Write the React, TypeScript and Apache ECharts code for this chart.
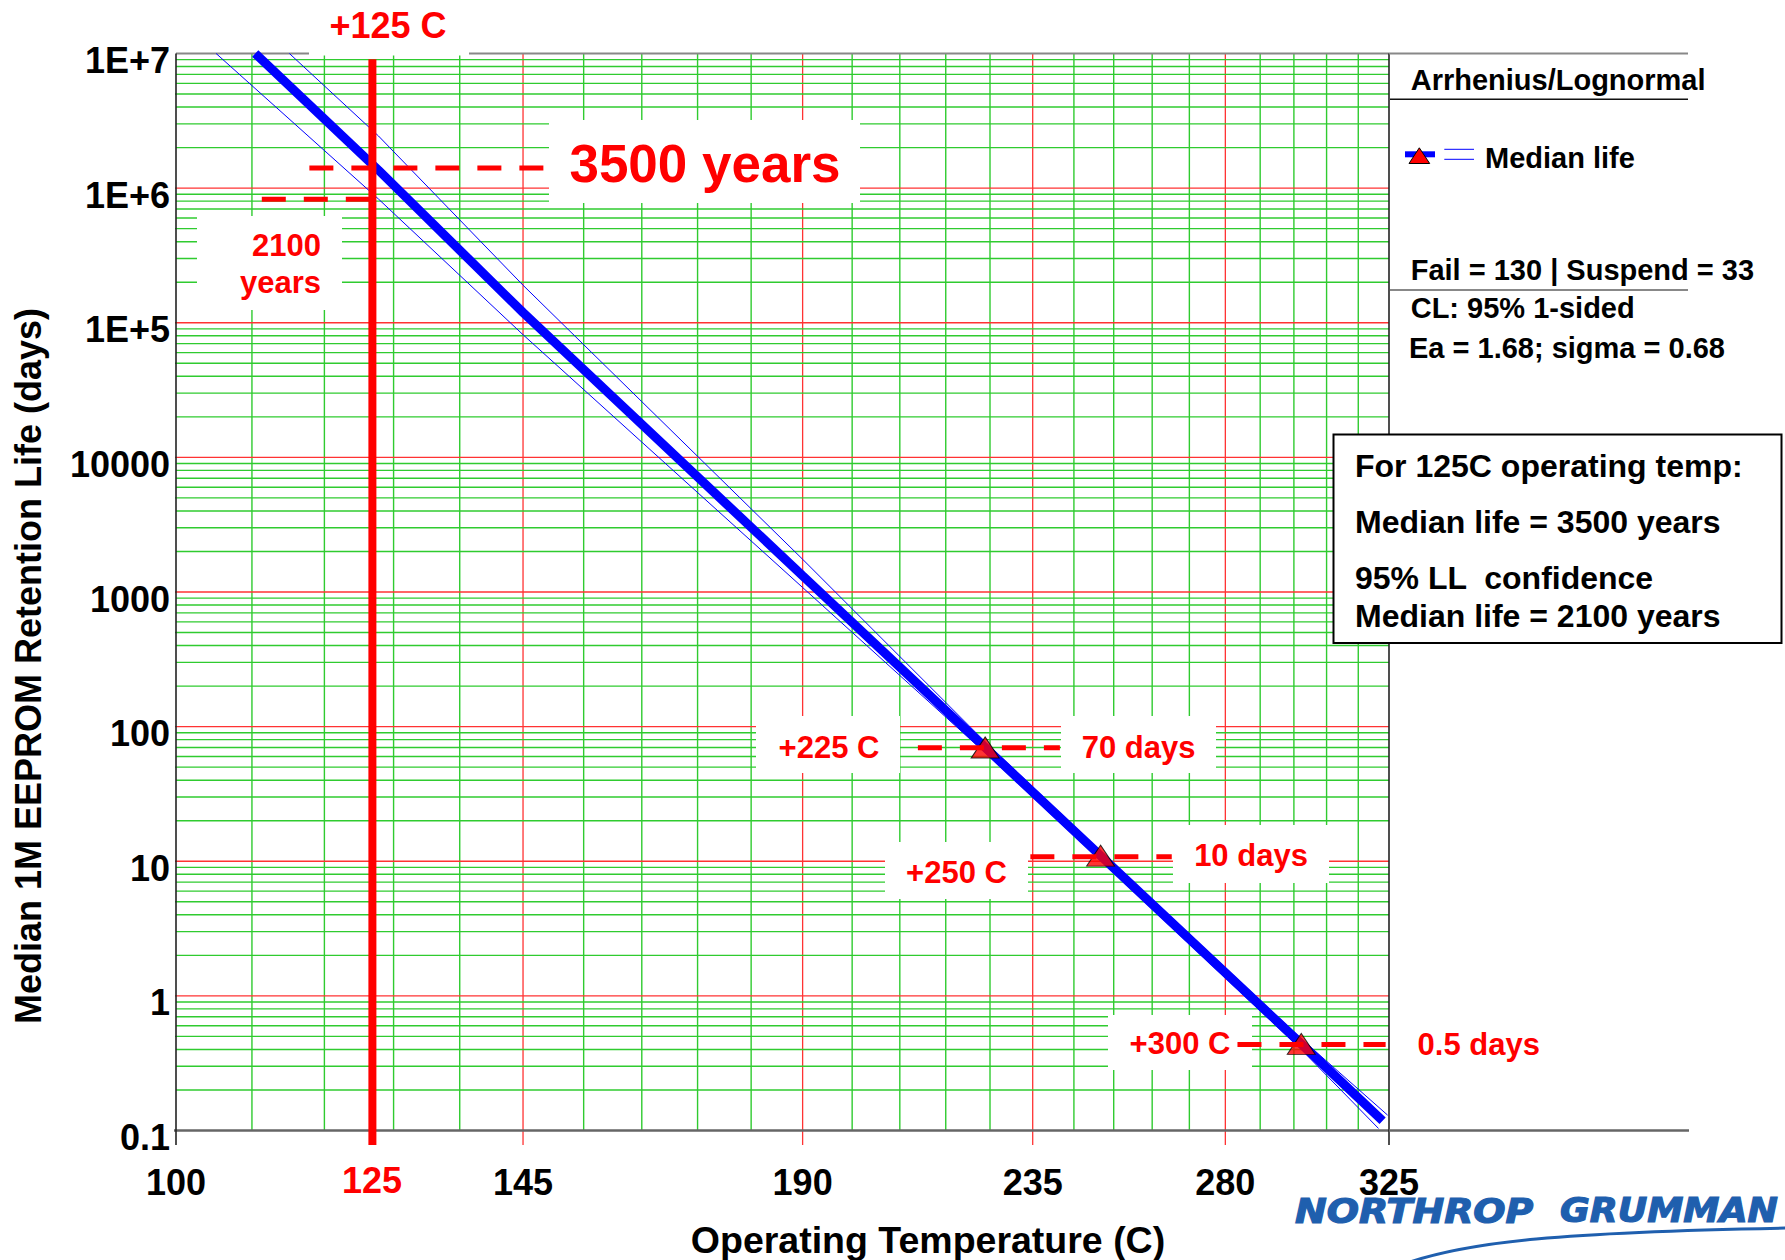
import React, { useEffect, useRef } from 'react';
import * as echarts from 'echarts';

const FONT = "'Liberation Sans', Arial, Helvetica, sans-serif";

// ---- axes ----
const T_MIN = 100;
const T_MAX = 325;
const Y_MIN = 0.1;
const Y_MAX = 1e7;
const LABEL_TEMPS = [100, 145, 190, 235, 280, 325];
const YTICK_LABELS = ['0.1', '1', '10', '100', '1000', '10000', '1E+5', '1E+6', '1E+7'];

// ---- grid lines ----
const RED_GRID_TEMPS = [145, 190, 235, 280];
const BORDER_TEMPS = [100, 325];
const GREEN_GRID_TEMPS = [109, 118, 127, 136, 154, 163, 172, 181, 199, 208, 217, 226, 244, 253, 262, 271, 289, 298, 307, 316];
const DECADES = [1, 10, 100, 1000, 10000, 1e5, 1e6];
const MINOR_DECADES = [0.1, 1, 10, 100, 1000, 10000, 1e5, 1e6];
const MINOR_MULTS = [2, 3, 4, 5, 6, 7, 8, 9];

// ---- data ----
const MEDIAN_T = [109.4, 125, 145, 190, 225, 250, 300, 323.1];
const MEDIAN_Y = [1.0e7, 1.36e6, 1.19e5, 1320, 70, 11, 0.44, 0.118];
const UPPER_T = [113.6, 125, 145, 190, 225, 250, 300, 324.6];
const UPPER_Y = [1.0e7, 2.44e6, 1.9e5, 1750, 77, 11.9, 0.48, 0.13];
const LOWER_T = [104.7, 125, 145, 190, 225, 250, 300, 321.9];
const LOWER_Y = [1.0e7, 8.3e5, 8.15e4, 1080, 64, 10.1, 0.4, 0.1035];
const POINT_T = [225, 250, 300];
const POINT_Y = [70, 11, 0.44];

// ---- annotations (data space) ----
const OP_TEMP = 124.2; // thick red operating-temperature line as drawn
const OP_LINE_Y = [0.078, 9.06e6];
const DASH_3500 = { t: [116.1, 148.0], y: 1.41e6 };
const DASH_2100 = { t: [110.2, 124.2], y: 8.26e5 };
const DASH_70 = { t: [211.5, 240.9], y: 69.6 };
const DASH_10 = { t: [234.5, 266.7], y: 10.8 };
const DASH_05 = { t: [283.1, 324.0], y: 0.4355 };
const TICK_DECADE_T = 97.8;
const TICK_FIVE_T = 98.5;
const TICK_BOTTOM_Y = 0.078;

const toU = (T: number) => 1000 / (T + 273.15);

const GREEN = '#2fcb2f';
const RED = '#ff0000';
const BLUE = '#0000ff';
const LOGO_BLUE = '#1f5fae';

function segment(pts: number[][], color: string, width: number, z: number, dash?: number[]) {
  return {
    type: 'line',
    data: pts,
    symbol: 'none',
    silent: true,
    clip: false,
    z,
    lineStyle: { color, width, type: dash ? dash : 'solid', cap: 'butt' },
    emphasis: { disabled: true },
  };
}

function buildSeries() {
  const s: any[] = [];
  // vertical grid
  GREEN_GRID_TEMPS.forEach((T) => s.push(segment([[toU(T), Y_MIN], [toU(T), Y_MAX]], GREEN, 1.4, 1)));
  RED_GRID_TEMPS.forEach((T) => s.push(segment([[toU(T), TICK_BOTTOM_Y], [toU(T), Y_MAX]], '#ff3333', 1.3, 1)));
  // horizontal grid
  MINOR_DECADES.forEach((d) =>
    MINOR_MULTS.forEach((m) => {
      const v = d * m;
      const t0 = m === 5 ? TICK_FIVE_T : T_MIN;
      s.push(segment([[toU(t0), v], [toU(T_MAX), v]], GREEN, 1.4, 1));
    })
  );
  DECADES.forEach((v) => s.push(segment([[toU(TICK_DECADE_T), v], [toU(T_MAX), v]], '#ff3333', 1.3, 1)));
  // frame
  s.push(segment([[toU(T_MIN), Y_MAX], [toU(T_MAX), Y_MAX]], '#888888', 2, 2));
  s.push(segment([[toU(TICK_DECADE_T), Y_MIN], [toU(T_MAX), Y_MIN]], '#666666', 2.5, 2));
  BORDER_TEMPS.forEach((T) => s.push(segment([[toU(T), TICK_BOTTOM_Y], [toU(T), Y_MAX]], '#222222', 1.6, 2)));

  // confidence bounds and median
  s.push(segment(UPPER_T.map((t, i) => [toU(t), UPPER_Y[i]]), BLUE, 1, 8));
  s.push(segment(LOWER_T.map((t, i) => [toU(t), LOWER_Y[i]]), BLUE, 1, 8));
  s.push(segment(MEDIAN_T.map((t, i) => [toU(t), MEDIAN_Y[i]]), BLUE, 9, 9));
  s.push({
    type: 'scatter',
    data: POINT_T.map((t, i) => [toU(t), POINT_Y[i]]),
    symbol: 'triangle',
    symbolSize: [28, 21],
    silent: true,
    z: 10,
    itemStyle: { color: RED, borderColor: '#000', borderWidth: 1 },
  });

  // annotations
  s.push(segment([[toU(OP_TEMP), OP_LINE_Y[0]], [toU(OP_TEMP), OP_LINE_Y[1]]], RED, 8, 11));
  [DASH_3500, DASH_2100, DASH_70, DASH_10, DASH_05].forEach((d) =>
    s.push(segment([[toU(d.t[0]), d.y], [toU(d.t[1]), d.y]], RED, 5, 11, [24, 18]))
  );
  return s;
}

function txt(x: number, y: number, text: string, size: number, color: string, align = 'left', extra: any = {}) {
  return {
    type: 'text',
    x,
    y,
    z: 20,
    silent: true,
    style: {
      text,
      fill: color,
      font: `bold ${size}px ${FONT}`,
      textAlign: align,
      textVerticalAlign: 'middle',
    },
    ...extra,
  };
}

function box(x1: number, y1: number, x2: number, y2: number, extra: any = {}) {
  return {
    type: 'rect',
    z: 5,
    silent: true,
    shape: { x: x1, y: y1, width: x2 - x1, height: y2 - y1 },
    style: { fill: '#ffffff', ...extra },
  };
}

function hline(x1: number, x2: number, y: number, color: string, w: number) {
  return { type: 'line', z: 6, silent: true, shape: { x1, y1: y, x2, y2: y }, style: { stroke: color, lineWidth: w } };
}

function logoText(x: number, text: string, sx: number) {
  return {
    type: 'text', x, y: 1211, z: 20, silent: true, scaleX: sx,
    style: {
      text,
      fill: LOGO_BLUE,
      stroke: LOGO_BLUE,
      lineWidth: 1.2,
      font: `italic bold 33px 'DejaVu Sans', ${FONT}`,
      textAlign: 'left',
      textVerticalAlign: 'middle',
    },
  };
}

function buildGraphic() {
  return [
    // white label backgrounds
    box(309, 0, 469, 55.5),
    box(549, 120, 860, 203),
    box(197, 216, 342, 310),
    box(756, 716, 900, 773),
    box(1061, 716, 1216, 773),
    box(885, 842, 1028, 899),
    box(1173, 825, 1329, 883),
    box(1108, 1015, 1252, 1070),
    // legend area frame
    hline(1389, 1688, 53.5, '#888888', 2),
    hline(1389, 1689, 1130.5, '#666666', 2.5),
    hline(1390, 1688, 99.3, '#111111', 1.5),
    hline(1390, 1688, 290, '#888888', 2),
    box(1333.5, 434.5, 1781.5, 643, { stroke: '#000000', lineWidth: 2 }),
    // legend symbol
    { type: 'rect', z: 21, silent: true, shape: { x: 1405, y: 151.3, width: 30, height: 6 }, style: { fill: BLUE } },
    {
      type: 'polygon', z: 22, silent: true,
      shape: { points: [[1419.3, 147.8], [1409, 163.5], [1429.7, 163.5]] },
      style: { fill: RED, stroke: '#000', lineWidth: 1 },
    },
    hline(1444.3, 1474, 149.3, BLUE, 1),
    hline(1444.3, 1474, 159.3, BLUE, 1),
    // legend texts
    txt(1410.7, 80, 'Arrhenius/Lognormal', 29, '#000'),
    txt(1485, 158, 'Median life', 29, '#000'),
    txt(1410.7, 270, 'Fail = 130 | Suspend = 33', 29, '#000'),
    txt(1410.7, 308, 'CL: 95% 1-sided', 29, '#000'),
    txt(1409, 348, 'Ea = 1.68; sigma = 0.68', 29, '#000'),
    // info box
    txt(1355, 466, 'For 125C operating temp:', 32, '#000'),
    txt(1355, 522, 'Median life = 3500 years', 32, '#000'),
    txt(1355, 578, '95% LL  confidence', 32, '#000'),
    txt(1355, 616, 'Median life = 2100 years', 32, '#000'),
    // annotations
    txt(388, 25, '+125 C', 36, RED, 'center'),
    txt(705, 163, '3500 years', 53, RED, 'center'),
    txt(321, 245, '2100', 31, RED, 'right'),
    txt(321, 282, 'years', 31, RED, 'right'),
    txt(829, 747, '+225 C', 31, RED, 'center'),
    txt(1138.6, 747, '70 days', 31, RED, 'center'),
    txt(956.5, 872, '+250 C', 31, RED, 'center'),
    txt(1251, 855, '10 days', 31, RED, 'center'),
    txt(1180, 1043.5, '+300 C', 31, RED, 'center'),
    txt(1478.8, 1044, '0.5 days', 31, RED, 'center'),
    txt(372, 1180, '125', 36, RED, 'center'),
    // axis titles
    txt(928, 1240, 'Operating Temperature (C)', 37.5, '#000', 'center'),
    txt(28, 666, 'Median 1M EEPROM Retention Life (days)', 36, '#000', 'center', { rotation: Math.PI / 2 }),
    // logo
    logoText(1295, 'NORTHROP', 1.15),
    logoText(1560, 'GRUMMAN', 1.1),
    {
      type: 'bezierCurve', z: 20, silent: true,
      shape: { x1: 1410, y1: 1262, cpx1: 1470, cpy1: 1242, cpx2: 1560, cpy2: 1232, x2: 1790, y2: 1228 },
      style: { stroke: LOGO_BLUE, lineWidth: 3, fill: null },
    },
  ];
}

function buildOption() {
  return {
    animation: false,
    backgroundColor: '#ffffff',
    textStyle: { fontFamily: FONT },
    grid: { left: 176, top: 53.5, width: 1213, height: 1077, containLabel: false },
    xAxis: {
      type: 'value',
      min: toU(T_MAX),
      max: toU(T_MIN),
      inverse: true,
      axisLine: { show: false },
      axisTick: { show: false },
      splitLine: { show: false },
      axisLabel: {
        customValues: LABEL_TEMPS.map(toU),
        formatter: (v: number) => String(Math.round(1000 / v - 273.15)),
        fontSize: 36,
        fontWeight: 'bold',
        fontFamily: FONT,
        color: '#000',
        margin: 34,
      },
    },
    yAxis: {
      type: 'log',
      logBase: 10,
      min: Y_MIN,
      max: Y_MAX,
      axisLine: { show: false },
      axisTick: { show: false },
      splitLine: { show: false },
      axisLabel: {
        formatter: (v: number) => '{v|' + YTICK_LABELS[Math.round(Math.log10(v)) + 1] + '}',
        margin: 6,
        rich: {
          v: {
            fontSize: 36,
            fontWeight: 'bold',
            fontFamily: FONT,
            color: '#000',
            padding: [14, 0, 0, 0],
          },
        },
      },
    },
    series: buildSeries(),
    graphic: { elements: buildGraphic() },
  };
}

export default function App() {
  const ref = useRef<HTMLDivElement>(null);
  useEffect(() => {
    document.body.style.margin = '0';
    const chart = echarts.init(ref.current as HTMLDivElement, null, { renderer: 'svg' });
    chart.setOption(buildOption() as any);
    return () => chart.dispose();
  }, []);
  return <div ref={ref} style={{ width: 1785, height: 1260, background: '#fff' }} />;
}
